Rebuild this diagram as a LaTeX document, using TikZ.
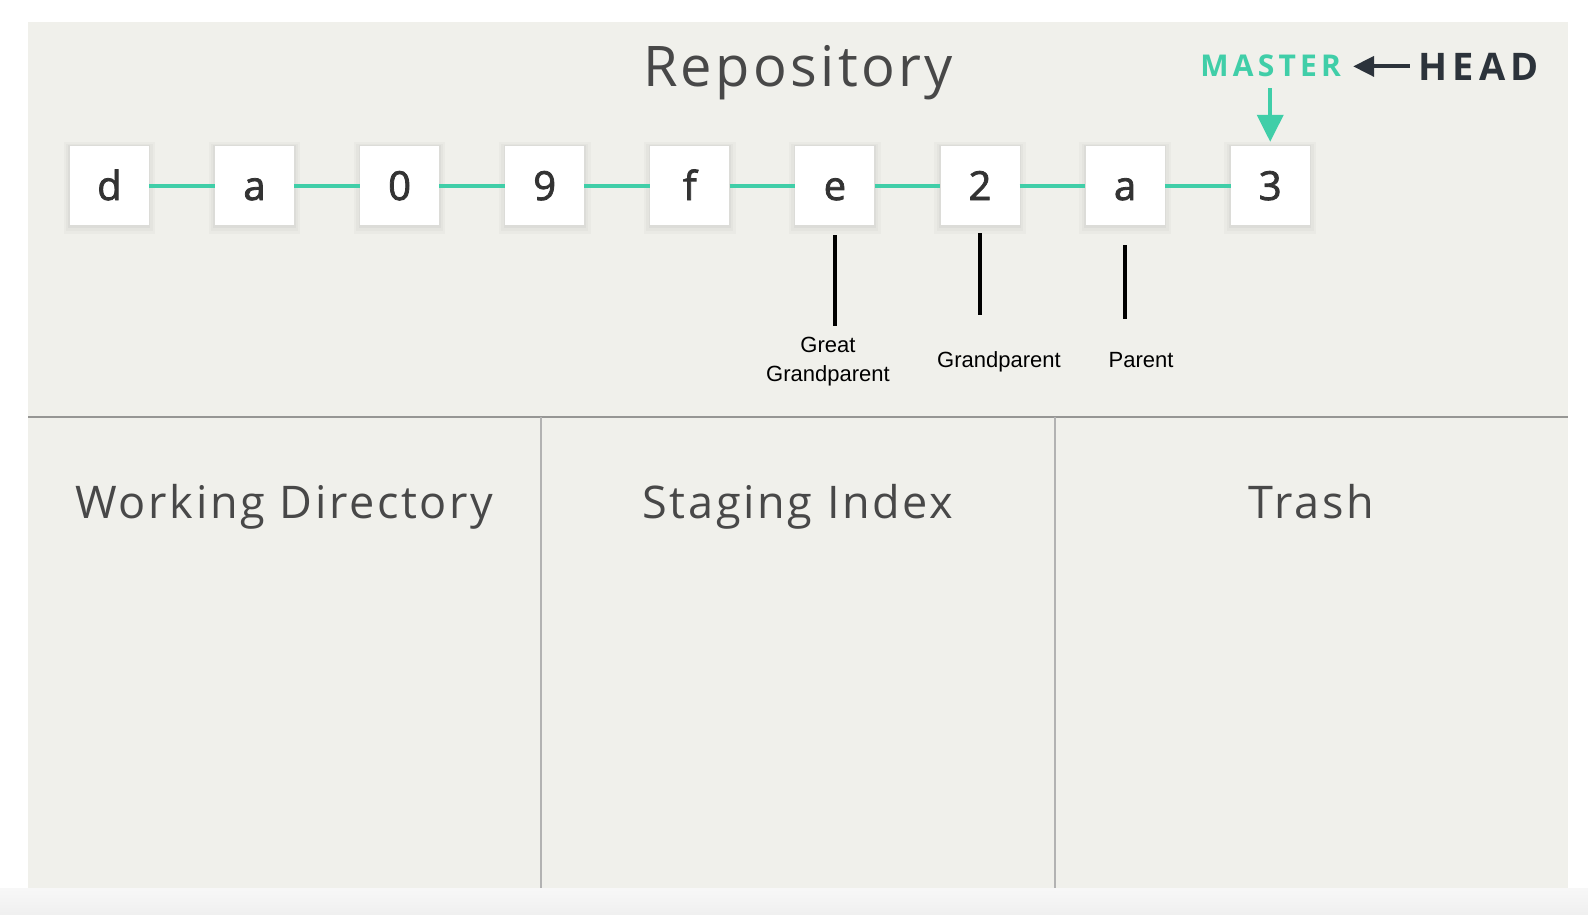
\documentclass[tikz,border=0pt]{standalone}
\usepackage{fontspec}
\setmainfont{Open Sans}
\newfontfamily\labelfont{Liberation Sans}
\newfontfamily\titlefont{Open Sans}[LetterSpace=6]
\newfontfamily\branchfont{Open Sans}[LetterSpace=14]
\newfontfamily\commitfont{Open Sans}[FakeBold=2]
\usepackage{tikz}
\usetikzlibrary{positioning,arrows.meta,shadows}
\definecolor{panelbg}{RGB}{240,240,235}
\definecolor{gitteal}{RGB}{64,206,168}
\definecolor{headdark}{RGB}{44,51,59}
\definecolor{titlegray}{RGB}{72,72,72}
\definecolor{rulegray}{RGB}{150,150,148}
\definecolor{digitgray}{RGB}{51,51,51}

\begin{document}
\begin{tikzpicture}[x=1pt,y=-1pt,
    commit/.style={fill=white,minimum size=79pt,inner sep=0pt,text height=29pt,text depth=0pt,
        font=\commitfont\fontsize{40}{40}\selectfont,text=digitgray,
        general shadow={fill=black,opacity=0.025,shadow scale=1.16,shadow yshift=-2pt},
        general shadow={fill=black,opacity=0.025,shadow scale=1.10,shadow yshift=-2pt},
        general shadow={fill=black,opacity=0.03,shadow scale=1.04,shadow yshift=-1pt}},
    link/.style={gitteal,line width=4pt},
    title/.style={font=\titlefont\fontsize{56}{60}\selectfont,text=titlegray,inner sep=0pt,anchor=base},
    section/.style={font=\titlefont\fontsize{45}{50}\selectfont,text=titlegray,inner sep=0pt,anchor=base},
    ancestor/.style={font=\labelfont\fontsize{22}{29}\selectfont,inner sep=0pt,align=center},
    tick/.style={black,line width=4pt},
    branch/.style={font=\branchfont\bfseries\fontsize{30}{30}\selectfont,text=gitteal,inner sep=0pt,anchor=base},
    pointer/.style={font=\branchfont\bfseries\fontsize{38}{38}\selectfont,text=headdark,inner sep=0pt,anchor=base},
    masterarrow/.style={gitteal,line width=4pt,-{Triangle[width=26pt,length=27pt]}},
    headarrow/.style={headdark,line width=4pt,-{Triangle[width=20pt,length=21pt]}}]
    \useasboundingbox (0,0) rectangle (1588,914);
    \fill[white] (0,0) rectangle (1588,914);
    \shade[top color=black!3,bottom color=black!6] (0,888) rectangle (1588,914);
    \fill[panelbg] (28,22) rectangle (1568,888);
    \draw[rulegray,line width=2pt] (28,417) -- (1568,417);
    \draw[black!30,line width=2.5pt] (541,417) -- (541,888) (1055,417) -- (1055,888);

    \node[title] (repo) at (798,86.7) {Repository};
    \node[section] (wd) at (284.5,518) {Working Directory};
    \node[section] (si) at (798,518) {Staging Index};
    \node[section] (trash) at (1311.5,518) {Trash};

    \foreach \lbl [count=\i] in {d,a,0,9,f,e,2,a,3}
        \node[commit] (c\i) at ({109.4+145.1*(\i-1)},185.5) {\lbl};
    \foreach \i in {2,...,9}{
        \pgfmathtruncatemacro\prev{\i-1}
        \draw[link] (c\prev) -- (c\i);
    }

    \node[branch] (master) at (1270.7,76.7) {MASTER};
    \node[pointer] (head) at (1478.5,80) {HEAD};
    \draw[headarrow,shorten <=8pt,shorten >=12pt] (head.west) -- (head.west -| master.east);
    \draw[masterarrow,shorten <=11pt,shorten >=4pt] (c9.north |- master.south) -- (c9.north);

    \node[ancestor] (ggp) at (828,362) {Great\\Grandparent};
    \node[ancestor,anchor=base] (gp) at (999,367) {Grandparent};
    \node[ancestor,anchor=base] (par) at (1141,367) {Parent};
    \draw[tick,shorten <=10pt,shorten >=11pt] (c6.south) -- (c6.south |- ggp.north);
    \draw[tick,shorten <=8pt,shorten >=36pt] (c7.south) -- (c7.south |- gp.north);
    \draw[tick,shorten <=20pt,shorten >=33pt] (c8.south) -- (c8.south |- par.north);
\end{tikzpicture}
\end{document}
